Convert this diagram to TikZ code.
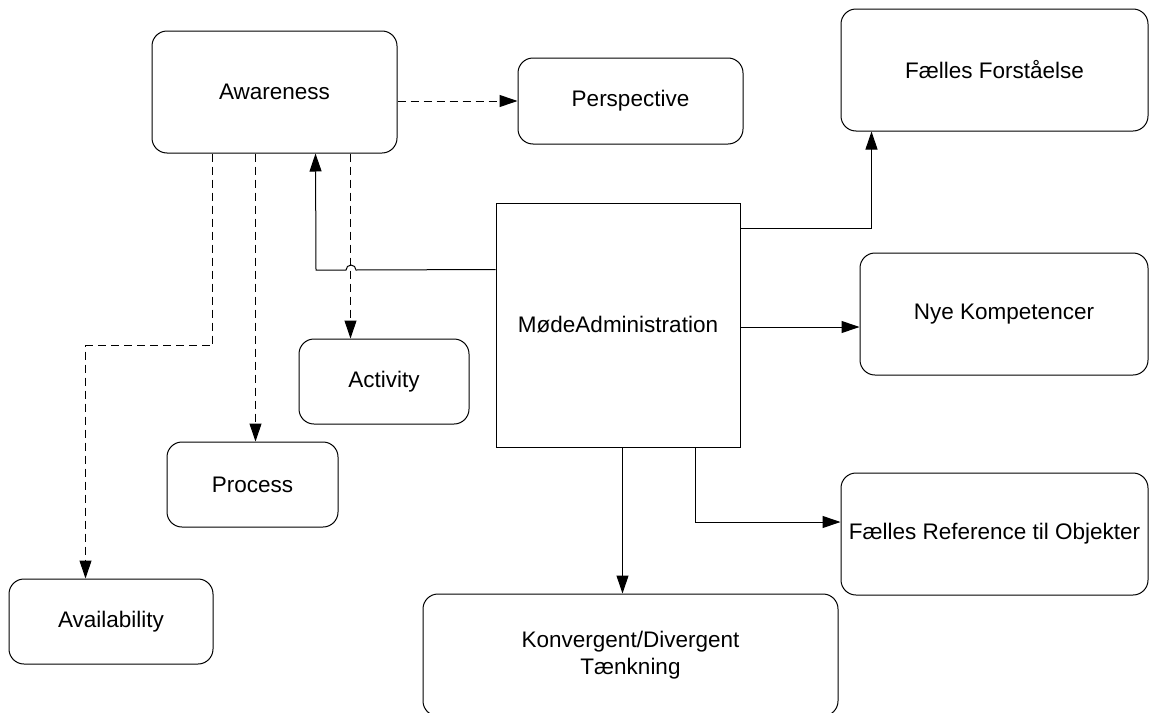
\documentclass[tikz,border=0pt]{standalone}
\usepackage{fontspec}
\setmainfont{Liberation Sans}
\usetikzlibrary{calc,arrows.meta}
\tikzset{
  box/.style={draw=black, line width=1pt, rounded corners=15pt, inner sep=0pt, align=center,
    font=\fontsize{22.5}{27}\selectfont},
  sqbox/.style={draw=black, line width=1pt, inner sep=0pt, align=center,
    font=\fontsize{22.5}{27}\selectfont},
  conn/.style={line width=1pt, -{Triangle[length=18pt,width=12pt]}},
  dconn/.style={conn, dash pattern=on 8pt off 5pt},
}
\begin{document}
\begin{tikzpicture}[x=1pt,y=-1pt]
\useasboundingbox (0,0) rectangle (1150,712);
\node[box, minimum width=245pt, minimum height=122pt] (aw) at (274.5,92) {Awareness};
\node[box, minimum width=225pt, minimum height=86pt] (persp) at (630.5,101) {Perspective};
\node[box, minimum width=307pt, minimum height=122pt] (ff) at (994.5,70) {Fælles Forståelse};
\node[box, minimum width=288pt, minimum height=122pt] (nye) at (1004,314) {Nye Kompetencer};
\node[box, minimum width=307pt, minimum height=122pt] (fr) at (994.5,534) {Fælles Reference til Objekter};
\node[box, minimum width=415pt, minimum height=122pt] (kon) at (630.5,655) {Konvergent/Divergent\\Tænkning};
\node[box, minimum width=204pt, minimum height=85pt] (avail) at (111,621.5) {Availability};
\node[box, minimum width=171pt, minimum height=85pt] (proc) at (252.5,484.5) {Process};
\node[box, minimum width=170pt, minimum height=85pt] (act) at (384,381.5) {Activity};
\node[sqbox, minimum width=244pt, minimum height=244pt] (mode) at (618,325) {MødeAdministration};

% dashed connectors from Awareness
\draw[dconn] (aw.east |- persp.west) -- (persp.west);
\draw[dconn] ($(aw.south west)+(61,0)$) |- ($(avail.north west)+(77,-233)$) -- ($(avail.north west)+(77,0)$);
\draw[dconn] ($(aw.south west)+(104,0)$) -- ($(proc.north west)+(89,0)$);
\draw[dconn] ($(aw.south west)+(199,0)$) -- ($(act.north west)+(52,0)$);

% solid connectors from MødeAdministration
\coordinate (hop) at (356,270);
\coordinate (ne) at ($(mode.east)+(0,2)$);
\draw[conn] ($(mode.north west)+(0,67)$) -- (hop) arc[start angle=0, end angle=180, radius=5pt] -- (316,270) -- ($(aw.south west)+(164,0)$);
\draw[conn] ($(mode.north east)+(0,26)$) -| ($(ff.south west)+(31,0)$);
\draw[conn] (ne) -- (ne -| nye.west);
\draw[conn] ($(mode.south west)+(200,0)$) |- ($(fr.west)+(0,-12)$);
\draw[conn] ($(mode.south west)+(127,0)$) -- ($(kon.north west)+(200,0)$);
\end{tikzpicture}
\end{document}
